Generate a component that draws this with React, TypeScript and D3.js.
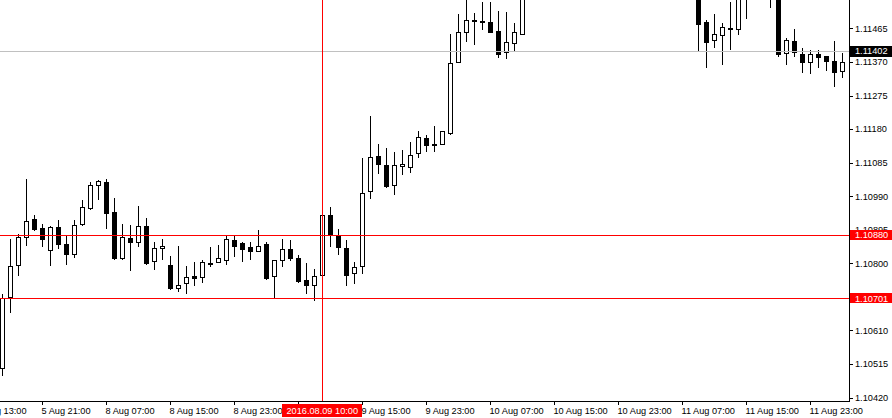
import React from 'react';
import * as d3 from 'd3';

// Hourly EURUSD candles, one per bar index (null = bar lies entirely above the visible price range)
const opens: (number | null)[] = [
  1.10504, 1.10705, 1.10795, 1.10875, 1.10926, 1.10900, 1.10838, 1.10903, 1.10855, 1.10826,
  1.10911, 1.10957, 1.11022, 1.11030, 1.10945, 1.10815, 1.10872, 1.10860, 1.10906, 1.10807,
  1.10843, 1.10795, 1.10730, 1.10744, 1.10764, 1.10761, 1.10801, 1.10804, 1.10809, 1.10866,
  1.10858, 1.10846, 1.10835, 1.10855, 1.10764, 1.10809, 1.10841, 1.10815, 1.10753, 1.10739,
  1.10767, 1.10937, 1.10877, 1.10843, 1.10773, 1.10792, 1.11005, 1.11104, 1.11078, 1.11022,
  1.11076, 1.11073, 1.11112, 1.11155, 1.11138, 1.11138, 1.11169, 1.11370, 1.11455, 1.11489,
  1.11486, 1.11483, 1.11458, 1.11398, 1.11424, 1.11449,
  null, null, null, null, null, null, null, null, null, null, null, null, null, null, null, null, null, null, null, null, null,
  1.11580, 1.11483, 1.11432, 1.11447, 1.11466, 1.11464, 1.11570, null, null,
  1.11600, 1.11580, 1.11396, 1.11430, 1.11393, 1.11370, 1.11393, 1.11387, 1.11373, 1.11345,
];
const highs: (number | null)[] = [
  1.10713, 1.10869, 1.10883, 1.11039, 1.10937, 1.10911, 1.10906, 1.10923, 1.10880, 1.10923,
  1.10979, 1.11030, 1.11036, 1.11039, 1.10985, 1.10911, 1.10909, 1.10962, 1.10928, 1.10860,
  1.10869, 1.10821, 1.10849, 1.10792, 1.10804, 1.10809, 1.10846, 1.10852, 1.10877, 1.10877,
  1.10860, 1.10860, 1.10894, 1.10860, 1.10810, 1.10869, 1.10866, 1.10824, 1.10801, 1.10784,
  1.10940, 1.10960, 1.10897, 1.10866, 1.10804, 1.11098, 1.11217, 1.11138, 1.11127, 1.11115,
  1.11121, 1.11144, 1.11175, 1.11163, 1.11189, 1.11176, 1.11449, 1.11506, 1.11560, 1.11509,
  1.11540, 1.11540, 1.11515, 1.11512, 1.11481, 1.11588,
  null, null, null, null, null, null, null, null, null, null, null, null, null, null, null, null, null, null, null, null, null,
  1.11600, 1.11489, 1.11506, 1.11481, 1.11540, 1.11590, 1.11610, null, null,
  1.11620, 1.11590, 1.11438, 1.11464, 1.11410, 1.11404, 1.11404, 1.11388, 1.11430, 1.11396,
];
const lows: (number | null)[] = [
  1.10484, 1.10662, 1.10767, 1.10852, 1.10894, 1.10849, 1.10795, 1.10843, 1.10798, 1.10818,
  1.10909, 1.10954, 1.10982, 1.10900, 1.10812, 1.10812, 1.10781, 1.10849, 1.10799, 1.10784,
  1.10812, 1.10727, 1.10722, 1.10716, 1.10739, 1.10747, 1.10792, 1.10803, 1.10798, 1.10821,
  1.10807, 1.10812, 1.10834, 1.10756, 1.10702, 1.10792, 1.10809, 1.10747, 1.10716, 1.10697,
  1.10753, 1.10849, 1.10826, 1.10739, 1.10744, 1.10773, 1.10985, 1.11056, 1.11016, 1.10996,
  1.11053, 1.11059, 1.11101, 1.11118, 1.11118, 1.11137, 1.11167, 1.11369, 1.11430, 1.11421,
  1.11464, 1.11454, 1.11384, 1.11381, 1.11401, 1.11448,
  null, null, null, null, null, null, null, null, null, null, null, null, null, null, null, null, null, null, null, null, null,
  1.11401, 1.11356, 1.11413, 1.11365, 1.11407, 1.11449, 1.11495, null, null,
  1.11526, 1.11387, 1.11365, 1.11387, 1.11342, 1.11339, 1.11356, 1.11348, 1.11302, 1.11328,
];
const closes: (number | null)[] = [
  1.10702, 1.10792, 1.10875, 1.10920, 1.10897, 1.10869, 1.10903, 1.10855, 1.10826, 1.10909,
  1.10960, 1.11022, 1.11033, 1.10943, 1.10815, 1.10875, 1.10860, 1.10906, 1.10801, 1.10843,
  1.10849, 1.10730, 1.10739, 1.10761, 1.10758, 1.10804, 1.10802, 1.10815, 1.10869, 1.10849,
  1.10841, 1.10835, 1.10849, 1.10758, 1.10809, 1.10841, 1.10815, 1.10750, 1.10739, 1.10764,
  1.10937, 1.10880, 1.10846, 1.10767, 1.10790, 1.11000, 1.11101, 1.11081, 1.11019, 1.11078,
  1.11081, 1.11107, 1.11158, 1.11135, 1.11138, 1.11175, 1.11367, 1.11455, 1.11489, 1.11489,
  1.11486, 1.11455, 1.11393, 1.11427, 1.11455, 1.11574,
  null, null, null, null, null, null, null, null, null, null, null, null, null, null, null, null, null, null, null, null, null,
  1.11478, 1.11427, 1.11449, 1.11469, 1.11466, 1.11575, 1.11590, null, null,
  1.11570, 1.11393, 1.11432, 1.11398, 1.11370, 1.11393, 1.11384, 1.11373, 1.11342, 1.11370,
];

const priceTicks = [1.11465, 1.1137, 1.11275, 1.1118, 1.11085, 1.1099, 1.10895, 1.108, 1.10705, 1.1061, 1.10515, 1.1042];
const timeTickBars = [-3, 5, 13, 21, 29, 37, 45, 53, 61, 69, 77, 85, 93, 101];
const timeTickLabels = [
  '5 Aug 13:00', '5 Aug 21:00', '8 Aug 07:00', '8 Aug 15:00', '8 Aug 23:00', '9 Aug 07:00',
  '9 Aug 15:00', '9 Aug 23:00', '10 Aug 07:00', '10 Aug 15:00', '10 Aug 23:00', '11 Aug 07:00',
  '11 Aug 15:00', '11 Aug 23:00',
];
const bidPrice = 1.11402;
const levelLines = [1.1088, 1.10701];
const crosshairBar = 40;
const crosshairLabel = '2016.08.09 10:00';

const W = 892;
const H = 418;
const PR = 849; // plot right edge (axis)
const PB = 401; // plot bottom edge (axis)
const FONT = '"Liberation Sans", Arial, sans-serif';

export default function App() {
  const x = d3.scaleLinear().domain([0, 105]).range([2, 842]);
  const y = d3.scaleLinear().domain([1.104101, 1.115457]).range([PB, 0]);
  const sy = (p: number) => Math.round(y(p)) + 0.5;

  const candles = opens.map((o, i) => {
    const h = highs[i], l = lows[i], c = closes[i];
    if (o == null || h == null || l == null || c == null) return null;
    const cx = Math.round(x(i));
    const top = Math.round(y(Math.max(o, c)));
    const bot = Math.round(y(Math.min(o, c)));
    const bull = c >= o;
    return (
      <g key={i}>
        <line x1={cx + 0.5} x2={cx + 0.5} y1={Math.round(y(h))} y2={Math.round(y(l)) + 1} stroke="#000" strokeWidth={1} />
        <rect
          x={cx - 1.5}
          y={top + 0.5}
          width={4}
          height={Math.max(1, bot - top)}
          fill={bull ? '#fff' : '#000'}
          stroke="#000"
          strokeWidth={1}
        />
      </g>
    );
  });

  const crossX = Math.round(x(crosshairBar)) + 0.5;

  return (
    <svg
      width={W}
      height={H}
      style={{ position: 'absolute', left: 0, top: 0, background: '#fff' }}
      fontFamily={FONT}
      fontSize={9.2}
      shapeRendering="crispEdges"
    >
      <defs>
        <clipPath id="plot">
          <rect x={0} y={0} width={PR} height={PB} />
        </clipPath>
      </defs>
      <rect x={0} y={0} width={W} height={H} fill="#fff" />
      <g clipPath="url(#plot)">
        {candles}
        <line x1={0} x2={PR} y1={sy(bidPrice)} y2={sy(bidPrice)} stroke="#c0c0c0" strokeWidth={1} />
        {levelLines.map((p) => (
          <line key={p} x1={0} x2={PR} y1={sy(p)} y2={sy(p)} stroke="#ff0000" strokeWidth={1} />
        ))}
        <line x1={crossX} x2={crossX} y1={0} y2={PB} stroke="#ff0000" strokeWidth={1} />
      </g>

      {/* axes */}
      <line x1={PR + 0.5} x2={PR + 0.5} y1={0} y2={PB + 1} stroke="#000" strokeWidth={1} />
      <line x1={0} x2={PR + 1} y1={PB + 0.5} y2={PB + 0.5} stroke="#000" strokeWidth={1} />

      {priceTicks.map((p) => (
        <g key={p}>
          <line x1={PR} x2={PR + 4} y1={sy(p)} y2={sy(p)} stroke="#000" strokeWidth={1} />
          <text x={855} y={y(p) + 3.3} fill="#000">{p.toFixed(5)}</text>
        </g>
      ))}

      {timeTickBars.map((b, k) => {
        const tx = Math.round(x(b));
        return (
          <g key={b}>
            <line x1={tx + 0.5} x2={tx + 0.5} y1={PB} y2={PB + 4} stroke="#000" strokeWidth={1} />
            <text x={tx - 0.5} y={413.5} fill="#000">{timeTickLabels[k]}</text>
          </g>
        );
      })}

      {/* price label boxes */}
      <rect x={850} y={Math.round(y(bidPrice)) - 5} width={42} height={10.5} fill="#000" />
      <text x={855} y={y(bidPrice) + 3.3} fill="#fff">{bidPrice.toFixed(5)}</text>
      {levelLines.map((p) => (
        <g key={'b' + p}>
          <rect x={850} y={Math.round(y(p)) - 5.5} width={42} height={10.5} fill="#ff0000" />
          <text x={855} y={y(p) + 3.3} fill="#fff">{p.toFixed(5)}</text>
        </g>
      ))}

      {/* crosshair time box */}
      <rect x={crossX - 40.5} y={404} width={80} height={13} fill="#ff0000" />
      <text x={crossX - 36} y={413.5} fill="#fff">{crosshairLabel}</text>
    </svg>
  );
}
